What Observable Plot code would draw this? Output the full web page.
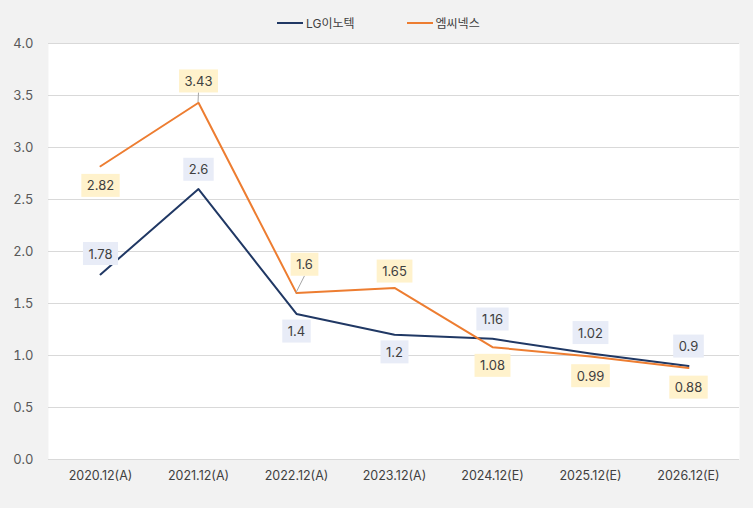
<!DOCTYPE html>
<html><head><meta charset="utf-8">
<script src="https://cdn.jsdelivr.net/npm/d3@7"></script>
<script src="https://cdn.jsdelivr.net/npm/@observablehq/plot@0.6"></script>
<style>
body{margin:0;background:#f2f2f2;font-family:Inter,"Noto Sans CJK KR",sans-serif;}
#wrap{position:relative;width:753px;height:508px;}
#legend{position:absolute;top:14px;left:277px;display:flex;align-items:center;font-size:12px;color:#404040;font-family:Inter,"Noto Sans CJK KR",sans-serif;}
.item{display:flex;align-items:center;}
.sw{display:inline-block;width:26px;height:2px;margin-right:3px;}
</style></head>
<body>
<div id="wrap">
<div id="legend"></div>
</div>
<script>
// ---- data ----
const categories = ["2020.12(A)","2021.12(A)","2022.12(A)","2023.12(A)","2024.12(E)","2025.12(E)","2026.12(E)"];
const seriesNames = ["LG이노텍","엠씨넥스"];
const lgValues = [1.78, 2.6, 1.4, 1.2, 1.16, 1.02, 0.9];
const mcValues = [2.82, 3.43, 1.6, 1.65, 1.08, 0.99, 0.88];
const yTicks = [0, 0.5, 1, 1.5, 2, 2.5, 3, 3.5, 4];

// ---- layout / style ----
const colors = ["#203864", "#ed7d31"];
const boxFill = ["#e8ecf7", "#fff2cc"];
const labelInk = ["#403f40", "#40403f"]; // near-identical greys, also used to find each series' labels
const lgOffsets = [[0,-20],[0,-19],[0,18],[0,18],[0,-19],[0,-20],[0,-19]];
const mcOffsets = [[0,20],[0,-21],[8,-28],[0,-16],[0,19],[0,20],[0,20]];
const mcLeaders = [1, 2];

const lgRows = categories.map((c,i)=>({cat:c, v:lgValues[i], s:0, i}));
const mcRows = categories.map((c,i)=>({cat:c, v:mcValues[i], s:1, i}));

function labelMarks(rows, offsets, s){
  const groups = new Map();
  rows.forEach((r,i)=>{
    const k = offsets[i].join(",");
    if(!groups.has(k)) groups.set(k, []);
    groups.get(k).push(r);
  });
  return [...groups.entries()].map(([k, sub])=>{
    const [dx,dy] = k.split(",").map(Number);
    return Plot.text(sub, {x:"cat", y:"v", text:d=>String(d.v), dx, dy,
      fontSize:13, fill:labelInk[s]});
  });
}

const plot = Plot.plot({
  width:753, height:508,
  marginTop:43, marginBottom:49, marginLeft:48, marginRight:14,
  style:{background:"#f2f2f2", fontFamily:'Inter,"Noto Sans CJK KR",sans-serif', overflow:"visible"},
  x:{type:"point", domain:categories, padding:0.5, label:null},
  y:{domain:[0,4], label:null},
  marks:[
    Plot.frame({fill:"white", stroke:null}),
    Plot.gridY(yTicks, {stroke:"#d9d9d9", strokeOpacity:1}),
    Plot.axisY(yTicks, {tickSize:0, tickPadding:15, tickFormat:d3.format(".1f"), fontSize:13, color:"#595959", label:null}),
    Plot.axisX({tickSize:0, tickPadding:12, fontSize:12.5, color:"#404040", label:null}),
    Plot.line(lgRows, {x:"cat", y:"v", stroke:colors[0], strokeWidth:2}),
    Plot.line(mcRows, {x:"cat", y:"v", stroke:colors[1], strokeWidth:2}),
    ...labelMarks(lgRows, lgOffsets, 0),
    ...labelMarks(mcRows, mcOffsets, 1)
  ]
});
document.getElementById("wrap").appendChild(plot);

// label boxes + leader lines
const svgNS = "http://www.w3.org/2000/svg";
const svgRect = plot.getBoundingClientRect();
const xs = plot.scale("x"), ys = plot.scale("y");
const labelGroups = [0,1].map(s=>[...plot.querySelectorAll(`[fill="${labelInk[s]}"]`)]);
const firstLabelG = labelGroups[0][0];
const leaderG = document.createElementNS(svgNS, "g");
if (firstLabelG && firstLabelG.parentNode) firstLabelG.parentNode.insertBefore(leaderG, firstLabelG);
else plot.appendChild(leaderG);
[0,1].forEach(s=>{
  const texts = [];
  labelGroups[s].forEach(g=>{ if (g.tagName==="text") texts.push(g); else texts.push(...g.querySelectorAll("text")); });
  texts.forEach(t=>{
    const bb = t.getBBox();
    const r = document.createElementNS(svgNS, "rect");
    const px = 5.5, py = 3.5;
    r.setAttribute("x", bb.x - px); r.setAttribute("y", bb.y - py);
    r.setAttribute("width", bb.width + 2*px); r.setAttribute("height", bb.height + 2*py);
    r.setAttribute("fill", boxFill[s]);
    if (t.getAttribute("transform")) r.setAttribute("transform", t.getAttribute("transform"));
    t.parentNode.insertBefore(r, t);
    if (s === 1) {
      const idx = mcValues.findIndex(v=>String(v)===t.textContent);
      if (mcLeaders.includes(idx)) {
        const rb = r.getBoundingClientRect();
        const x0 = xs.apply(categories[idx]), y0 = ys.apply(mcValues[idx]);
        const l = document.createElementNS(svgNS, "line");
        l.setAttribute("x1", x0); l.setAttribute("y1", y0);
        l.setAttribute("x2", rb.left - svgRect.left + rb.width/2); l.setAttribute("y2", rb.bottom - svgRect.top);
        l.setAttribute("stroke", "#a6a6a6"); l.setAttribute("stroke-width", 1);
        leaderG.appendChild(l);
      }
    }
  });
});

// legend
const legend = document.getElementById("legend");
seriesNames.forEach((n,i)=>{
  const it = document.createElement("div");
  it.className = "item";
  if (i>0) it.style.marginLeft = "52px";
  it.innerHTML = `<span class="sw" style="background:${colors[i]}"></span><span>${n}</span>`;
  legend.appendChild(it);
});
</script>
</body></html>
